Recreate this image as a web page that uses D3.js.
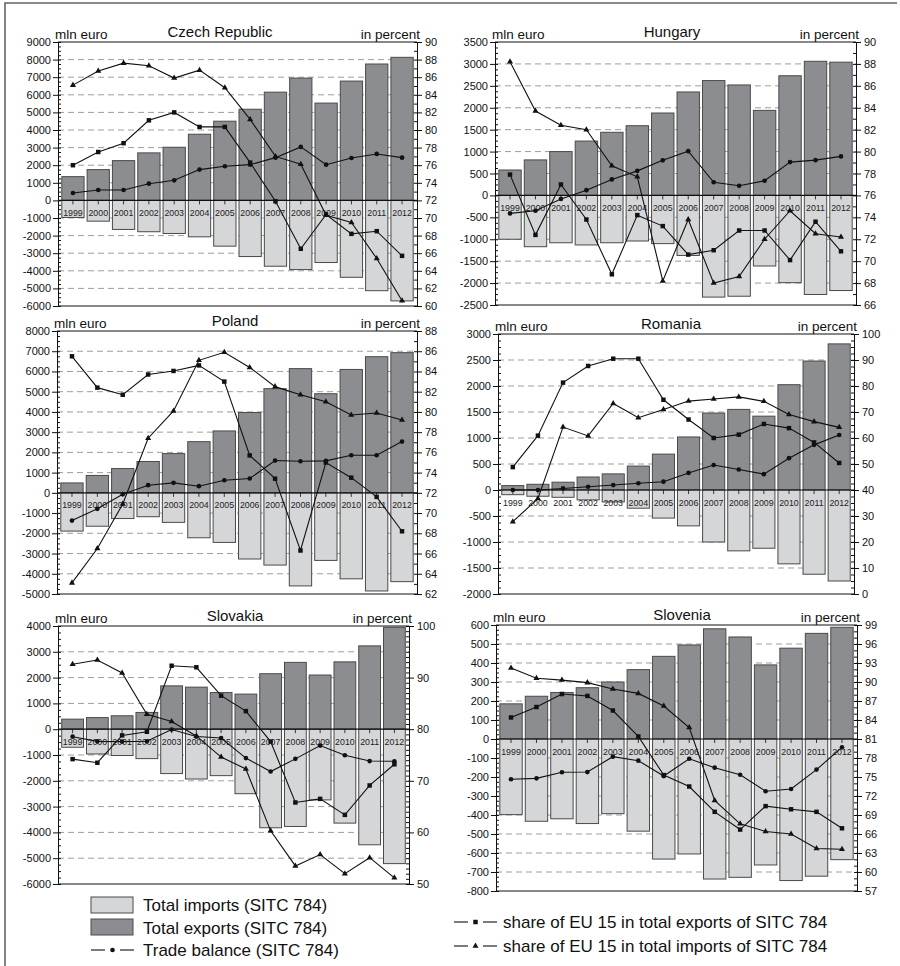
<!DOCTYPE html>
<html>
<head>
<meta charset="utf-8">
<script src="https://cdn.jsdelivr.net/npm/d3@7"></script>
<style>
  body { margin: 0; background: #fff; }
  svg { display: block; font-family: "Liberation Sans", Arial, sans-serif; }
</style>
</head>
<body>
<svg id="chart" width="900" height="966"></svg>
<script>
// ---- data ---------------------------------------------------------------
const years = ["1999","2000","2001","2002","2003","2004","2005","2006","2007","2008","2009","2010","2011","2012"];

// Czech Republic (mln euro / percent)
const czExports  = [1350,1750,2260,2700,3020,3760,4500,5180,6150,6950,5530,6780,7750,8130];
const czImports  = [-970,-1180,-1650,-1780,-1880,-2070,-2600,-3190,-3740,-3930,-3530,-4370,-5130,-5710];
const czBalance  = [420,590,590,950,1140,1750,1940,2030,2430,3040,2030,2410,2640,2430];
const czShareExp = [76.0,77.5,78.5,81.1,82.0,80.35,80.35,76.3,71.9,66.5,70.4,68.2,68.5,65.7];
const czShareImp = [85.1,86.7,87.6,87.3,85.9,86.8,84.8,81.2,77.0,76.1,70.3,69.5,65.4,60.6];

// Hungary
const huExports  = [580,810,1000,1240,1440,1590,1880,2360,2620,2520,1940,2730,3060,3040];
const huImports  = [-1000,-1170,-1080,-1130,-1080,-1040,-1100,-1370,-2320,-2300,-1610,-1990,-2260,-2170];
const huBalance  = [-410,-350,-80,120,365,560,800,1010,300,220,335,760,805,890];
const huShareExp = [77.9,72.4,77.0,73.8,68.8,74.2,73.2,70.6,71.0,72.8,72.8,70.1,73.6,70.9];
const huShareImp = [88.2,83.7,82.4,82.0,78.7,77.7,68.2,73.8,68.0,68.6,72.0,74.6,72.5,72.2];

// Poland
const plExports  = [490,860,1200,1550,1940,2530,3060,3970,5150,6140,4900,6100,6730,6930];
const plImports  = [-1890,-1650,-1270,-1180,-1460,-2220,-2450,-3270,-3570,-4600,-3340,-4250,-4850,-4390];
const plBalance  = [-1370,-790,-66,378,494,329,625,708,1596,1563,1580,1859,1859,2534];
const plShareExp = [85.5,82.4,81.7,83.7,84.05,84.6,83.0,75.7,73.4,66.3,75.0,73.5,71.6,68.2];
const plShareImp = [63.1,66.5,70.9,77.4,80.1,85.1,85.9,84.4,82.5,81.7,81.0,79.7,79.9,79.2];

// Romania
const roExports  = [85,110,150,250,310,460,690,1020,1480,1550,1420,2025,2480,2810];
const roImports  = [-90,-120,-140,-190,-230,-350,-540,-690,-1000,-1170,-1120,-1420,-1620,-1750];
const roBalance  = [0,0,30,62,95,130,160,328,481,395,305,612,868,1058];
const roShareExp = [48.8,60.9,81.3,87.7,90.5,90.5,74.7,67.1,60.0,61.3,65.4,63.8,58.3,50.4];
const roShareImp = [27.8,36.7,64.2,60.8,73.3,67.8,71.0,74.2,75.0,75.8,74.1,69.0,66.3,64.1];

// Slovakia
const skExports  = [390,450,520,650,1680,1630,1420,1360,2150,2590,2100,2610,3230,3950];
const skImports  = [-700,-960,-1020,-1140,-1720,-1930,-1800,-2500,-3820,-3770,-2740,-3640,-4480,-5210];
const skBalance  = [-290,-470,-480,-470,-15,-285,-340,-1120,-1640,-1150,-634,-1010,-1235,-1245];
const skShareExp = [74.2,73.5,78.8,79.5,92.3,92.0,86.5,83.5,77.6,65.8,66.5,63.4,69.1,73.2];
const skShareImp = [92.6,93.4,90.9,82.9,81.5,78.7,74.6,72.3,60.3,53.5,55.7,52.0,55.1,51.2];

// Slovenia
const siExports  = [185,225,245,270,300,365,435,495,580,537,390,478,556,588];
const siImports  = [-398,-433,-420,-445,-393,-485,-632,-605,-737,-728,-663,-745,-722,-635];
const siBalance  = [-212,-207,-175,-174,-93,-114,-195,-104,-151,-188,-275,-263,-161,-44];
const siShareExp = [84.4,86.05,88.1,87.8,85.5,81.4,75.3,73.5,69.5,66.7,70.4,69.9,69.5,66.9];
const siShareImp = [92.2,90.6,90.3,89.9,88.9,88.2,86.2,82.8,71.3,67.6,66.4,66.0,63.7,63.6];

// axis ranges: [min, max, major step]
const countryNames = ["Czech Republic","Hungary","Poland","Romania","Slovakia","Slovenia"];
const leftAxes  = [[-6000,9000,1000],[-2500,3500,500],[-5000,8000,1000],[-2000,3000,500],[-6000,4000,1000],[-800,600,100]];
const rightAxes = [[60,90,2],[66,90,2],[62,88,2],[0,100,10],[50,100,10],[57,99,3]];

const legendBars = ["Total imports (SITC 784)", "Total exports (SITC 784)", "Trade balance (SITC 784)"];
const legendShares = ["share of EU 15 in total exports of SITC 784", "share of EU 15 in total imports of SITC 784"];

// ---- layout & style -----------------------------------------------------
const layout = [
  { left: 58,  right: 417, top: 42,  bottom: 306, titleX: 220, minorL: 4, minorR: 2 },
  { left: 495, right: 856, top: 42,  bottom: 305, titleX: 672, minorL: 4, minorR: 2 },
  { left: 57,  right: 417, top: 331, bottom: 594, titleX: 235, minorL: 4, minorR: 2 },
  { left: 498, right: 854, top: 334, bottom: 594, titleX: 671, minorL: 4, minorR: 4 },
  { left: 58,  right: 409, top: 626, bottom: 884, titleX: 235, minorL: 4, minorR: 10 },
  { left: 496, right: 857, top: 625, bottom: 891, titleX: 682, minorL: 4, minorR: 3 }
];

const C = {
  exportFill: "#8c8d90", importFill: "#d5d6d8", barStroke: "#4a4a4a",
  grid: "#9d9d9d", ink: "#111", frame: "#666"
};

const series = [
  [czExports, czImports, czBalance, czShareExp, czShareImp],
  [huExports, huImports, huBalance, huShareExp, huShareImp],
  [plExports, plImports, plBalance, plShareExp, plShareImp],
  [roExports, roImports, roBalance, roShareExp, roShareImp],
  [skExports, skImports, skBalance, skShareExp, skShareImp],
  [siExports, siImports, siBalance, siShareExp, siShareImp]
];

const svg = d3.select("#chart");

// outer frame (top and left edges)
svg.append("path").attr("d", "M5,966 V3 H897")
  .attr("fill", "none").attr("stroke", C.frame).attr("stroke-width", 1.6);

const sym = {
  square: d3.symbol().type(d3.symbolSquare).size(20),
  circle: d3.symbol().type(d3.symbolCircle).size(17),
  triangle: d3.symbol().type(d3.symbolTriangle).size(16)
};

function rangeTicks(a) {
  return d3.range(a[0], a[1] + a[2] / 2, a[2]);
}
function minorTicks(a, n) {
  return d3.range(a[0], a[1] + a[2] / (2 * n), a[2] / n);
}

function drawPanel(i) {
  const box = layout[i];
  const [exp, imp, bal, shExp, shImp] = series[i];
  const la = leftAxes[i], ra = rightAxes[i];
  const g = svg.append("g");

  const x = d3.scaleBand().domain(years).range([box.left, box.right])
    .paddingInner(0.12).paddingOuter(0.15);
  const y = d3.scaleLinear().domain([la[0], la[1]]).range([box.bottom, box.top]);
  const y2 = d3.scaleLinear().domain([ra[0], ra[1]]).range([box.bottom, box.top]);
  const cx = d => x(d) + x.bandwidth() / 2;

  // dashed grid
  g.append("g").selectAll("line")
    .data(rangeTicks(la).filter(v => v !== 0 && v !== la[0] && v !== la[1]))
    .join("line")
    .attr("x1", box.left).attr("x2", box.right)
    .attr("y1", d => y(d)).attr("y2", d => y(d))
    .attr("stroke", C.grid).attr("stroke-width", 1).attr("stroke-dasharray", "6,4");

  // bars
  g.append("g").selectAll("rect").data(years).join("rect")
    .attr("x", d => x(d)).attr("width", x.bandwidth())
    .attr("y", (d, k) => y(exp[k])).attr("height", (d, k) => y(0) - y(exp[k]))
    .attr("fill", C.exportFill).attr("stroke", C.barStroke).attr("stroke-width", 1);
  g.append("g").selectAll("rect").data(years).join("rect")
    .attr("x", d => x(d)).attr("width", x.bandwidth())
    .attr("y", y(0)).attr("height", (d, k) => y(imp[k]) - y(0))
    .attr("fill", C.importFill).attr("stroke", C.barStroke).attr("stroke-width", 1);

  // zero line with category ticks and year labels
  g.append("line").attr("x1", box.left).attr("x2", box.right)
    .attr("y1", y(0)).attr("y2", y(0)).attr("stroke", C.ink).attr("stroke-width", 1.2);
  g.append("g").selectAll("line").data(years).join("line")
    .attr("x1", cx).attr("x2", cx).attr("y1", y(0)).attr("y2", y(0) + 4)
    .attr("stroke", C.ink).attr("stroke-width", 0.8);
  g.append("g").selectAll("text").data(years).join("text")
    .attr("x", cx).attr("y", y(0) + 15.5).attr("text-anchor", "middle")
    .attr("font-size", 8.8).attr("fill", "#222").text(d => d);

  // plot frame top / bottom
  g.append("line").attr("x1", box.left).attr("x2", box.right).attr("y1", box.top).attr("y2", box.top)
    .attr("stroke", C.ink).attr("stroke-width", 1);
  g.append("line").attr("x1", box.left).attr("x2", box.right).attr("y1", box.bottom).attr("y2", box.bottom)
    .attr("stroke", C.ink).attr("stroke-width", 1);

  // left axis
  const axL = g.append("g").attr("transform", `translate(${box.left},0)`)
    .call(d3.axisLeft(y).tickValues(rangeTicks(la)).tickSize(5).tickSizeOuter(0).tickPadding(2)
      .tickFormat(d => String(d)));
  g.append("g").attr("transform", `translate(${box.left},0)`)
    .call(d3.axisRight(y).tickValues(minorTicks(la, box.minorL)).tickSize(3).tickFormat(""))
    .call(s => s.select(".domain").remove());
  // right axis
  const axR = g.append("g").attr("transform", `translate(${box.right},0)`)
    .call(d3.axisRight(y2).tickValues(rangeTicks(ra)).tickSize(5).tickSizeOuter(0).tickPadding(3)
      .tickFormat(d => String(d)));
  g.append("g").attr("transform", `translate(${box.right},0)`)
    .call(d3.axisLeft(y2).tickValues(minorTicks(ra, box.minorR)).tickSize(3).tickFormat(""))
    .call(s => s.select(".domain").remove());
  [axL, axR].forEach(a => {
    a.selectAll("text").attr("font-size", 11).attr("fill", C.ink)
      .attr("font-family", "'Liberation Sans', Arial, sans-serif");
    a.selectAll("line").attr("stroke", C.ink);
    a.select(".domain").attr("stroke", C.ink);
  });
  g.selectAll(".tick line").attr("stroke", C.ink);

  // lines with markers
  const lineL = d3.line().x((d, k) => cx(years[k])).y(d => y(d));
  const lineR = d3.line().x((d, k) => cx(years[k])).y(d => y2(d));
  const lineSet = [
    { data: bal, path: lineL, scale: y, mark: sym.circle },
    { data: shExp, path: lineR, scale: y2, mark: sym.square },
    { data: shImp, path: lineR, scale: y2, mark: sym.triangle }
  ];
  lineSet.forEach(s => {
    g.append("path").datum(s.data).attr("d", s.path)
      .attr("fill", "none").attr("stroke", C.ink).attr("stroke-width", 1.1);
    g.append("g").selectAll("path").data(s.data).join("path")
      .attr("d", s.mark)
      .attr("transform", (d, k) => `translate(${cx(years[k])},${s.scale(d)})`)
      .attr("fill", C.ink);
  });

  // titles
  g.append("text").attr("x", box.titleX).attr("y", box.top - 5).attr("text-anchor", "middle")
    .attr("font-size", 15).attr("fill", C.ink).text(countryNames[i]);
  g.append("text").attr("x", box.left - 3).attr("y", box.top - 3)
    .attr("font-size", 13.5).attr("fill", C.ink).text("mln euro");
  g.append("text").attr("x", box.right + 3).attr("y", box.top - 3).attr("text-anchor", "end")
    .attr("font-size", 13.5).attr("fill", C.ink).text("in percent");
}

countryNames.forEach((n, i) => drawPanel(i));

// ---- legends ------------------------------------------------------------
const lg = svg.append("g");
const barFills = [C.importFill, C.exportFill];
[0, 1].forEach(k => {
  lg.append("rect").attr("x", 91).attr("y", 897 + k * 22).attr("width", 42).attr("height", 16)
    .attr("fill", barFills[k]).attr("stroke", C.barStroke).attr("stroke-width", 1);
});
lg.selectAll("text.bl").data(legendBars).join("text")
  .attr("x", 143).attr("y", (d, k) => 911 + k * 22.5)
  .attr("font-size", 17).attr("fill", C.ink).text(d => d);

function legendSymbol(x0, yc, mark) {
  lg.append("line").attr("x1", x0).attr("x2", x0 + 14).attr("y1", yc).attr("y2", yc)
    .attr("stroke", C.ink).attr("stroke-width", 1.1);
  lg.append("line").attr("x1", x0 + 29).attr("x2", x0 + 43).attr("y1", yc).attr("y2", yc)
    .attr("stroke", C.ink).attr("stroke-width", 1.1);
  lg.append("path").attr("d", mark).attr("transform", `translate(${x0 + 21.5},${yc})`).attr("fill", C.ink);
}
legendSymbol(91, 950, sym.circle);
legendSymbol(454, 922, sym.square);
legendSymbol(454, 946, sym.triangle);
lg.selectAll("text.sl").data(legendShares).join("text")
  .attr("x", 503).attr("y", (d, k) => 928 + k * 24)
  .attr("font-size", 17).attr("fill", C.ink).text(d => d);
</script>
</body>
</html>
